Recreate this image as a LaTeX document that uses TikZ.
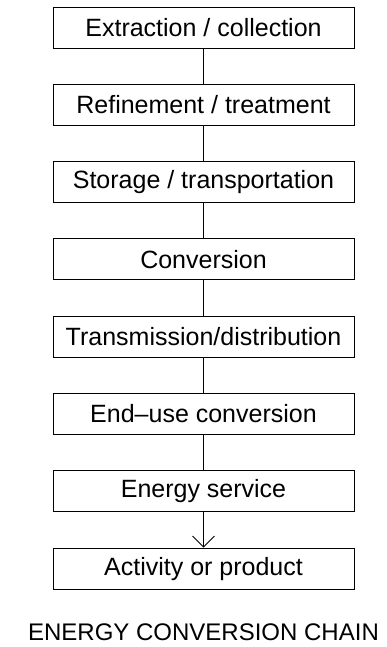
\documentclass[tikz,border=0pt]{standalone}
\usepackage{fontspec}
\setmainfont{Liberation Sans}
\usetikzlibrary{positioning}
\usetikzlibrary{arrows.meta}

\begin{document}
\begin{tikzpicture}[
    stagebox/.style={draw, line width=0.9pt, minimum width=301pt, minimum height=41pt,
      inner sep=0pt, font=\fontsize{25}{30}\selectfont},
    link/.style={line width=0.9pt},
    node distance=35.4pt
  ]
            \useasboundingbox (0,0) rectangle (386pt,-647pt);
            \node[stagebox] (extract) at (203.5pt,-27.5pt) {Extraction / collection};
            \node[stagebox, below=of extract] (refine) {Refinement / treatment};
            \node[stagebox, below=of refine] (store) {Storage / transportation};
            \node[stagebox, below=of store] (convert) {Conversion};
            \node[stagebox, below=of convert] (transmit) {Transmission/distribution};
            \node[stagebox, below=of transmit] (enduse) {End--use conversion};
            \node[stagebox, below=of enduse] (service) {Energy service};
            \node[stagebox, below=of service] (activity) {Activity or product};
            \node[anchor=base, font=\fontsize{24}{29}\selectfont] (chain) at (203.5pt,-640pt) {ENERGY CONVERSION CHAIN};
            \draw[link] (extract) -- (refine);
            \draw[link] (refine) -- (store);
            \draw[link] (store) -- (convert);
            \draw[link] (convert) -- (transmit);
            \draw[link] (transmit) -- (enduse);
            \draw[link] (enduse) -- (service);
            \draw[link, -{Straight Barb[length=11pt, width=22pt, line width=0.9pt]}] (service) -- (activity);
        \end{tikzpicture}
\end{document}
